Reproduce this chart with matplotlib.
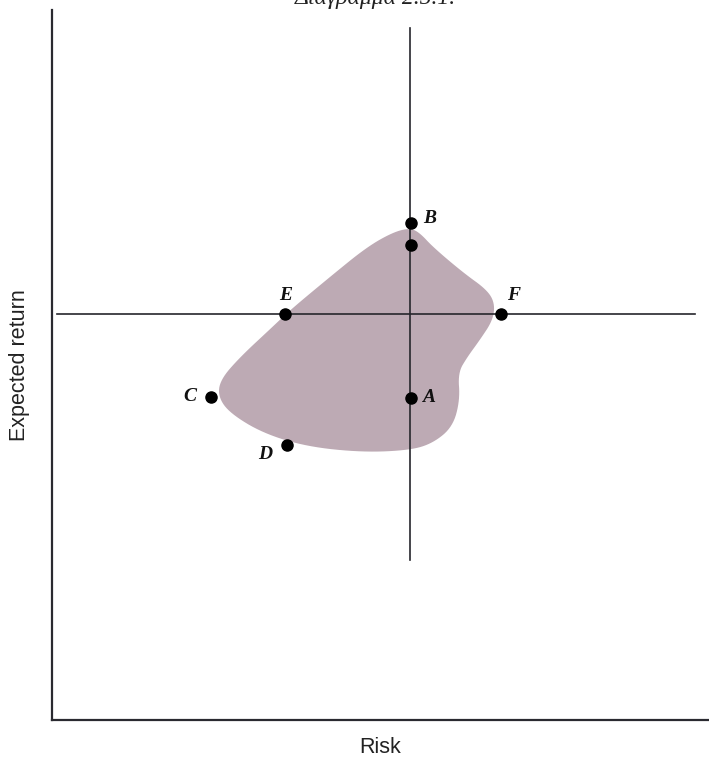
import numpy as np
import matplotlib.pyplot as plt
from matplotlib.patches import Polygon

# Portfolio-Menge im Risiko/Rendite-Raum (Einheiten 0..100 auf beiden Achsen)
point_names = ['B', '', 'E', 'F', 'A', 'C', 'D']
point_x = [54.6, 54.6, 35.5, 68.3, 54.6, 24.2, 35.8]
point_y = [70.0, 66.9, 57.2, 57.2, 45.4, 45.5, 38.7]

# Umriss der zulässigen Menge
region_x = [54.5, 56.0, 58.0, 62.6, 66.2, 67.4, 67.1, 65.1, 63.2, 61.8, 62.1, 61.0, 58.0,
            54.5, 47.3, 38.8, 32.1, 27.1, 25.3, 25.6, 28.6, 33.6, 36.2, 42.3, 47.9, 51.9]
region_y = [69.3, 68.6, 66.6, 63.0, 60.6, 58.7, 56.3, 53.5, 51.1, 48.9, 45.1, 41.3, 39.0,
            38.0, 37.7, 38.5, 40.4, 43.2, 45.5, 47.9, 51.1, 55.4, 57.7, 62.4, 66.6, 68.7]

# Fadenkreuz durch den Bezugspunkt
cross_x, cross_y = 54.5, 57.2
vline_span = (22.5, 97.5)
hline_span = (0.8, 97.9)

# Beschriftungspositionen der Punkte (Text-Offsets in Punkten)
label_offsets = {'B': (14, 3), 'E': (0, 13), 'F': (9, 13), 'A': (13, 0), 'C': (-15, 0), 'D': (-16, -7)}


def chaikin(pts, n=3):
    # Ecken des geschlossenen Umrisses abrunden
    for _ in range(n):
        nxt = np.roll(pts, -1, axis=0)
        q = 0.75 * pts + 0.25 * nxt
        r = 0.25 * pts + 0.75 * nxt
        pts = np.empty((2 * len(pts), 2))
        pts[0::2], pts[1::2] = q, r
    return pts


fig = plt.figure(figsize=(7.09, 7.58), dpi=100)
ax = fig.add_axes([0.0733, 0.0501, 0.9267, 0.9367])
ax.set_xlim(0, 100)
ax.set_ylim(0, 100)

outline = chaikin(np.column_stack([region_x, region_y]))
ax.add_patch(Polygon(outline, closed=True, facecolor='#bdaab4', edgecolor='none'))

ax.plot([cross_x, cross_x], vline_span, color='#26262c', linewidth=1.2)
ax.plot(hline_span, [cross_y, cross_y], color='#26262c', linewidth=1.2)

ax.plot(point_x, point_y, 'o', color='black', markersize=8, zorder=5)

for name, x, y in zip(point_names, point_x, point_y):
    if not name:
        continue
    dx, dy = label_offsets[name]
    ax.annotate(name, (x, y), xytext=(dx, dy), textcoords='offset points',
                ha='center', va='center', fontsize=14, fontstyle='italic', fontweight='bold',
                family='Liberation Serif', color='#111111')

for side in ['top', 'right']:
    ax.spines[side].set_visible(False)
for side in ['left', 'bottom']:
    ax.spines[side].set_linewidth(1.6)
    ax.spines[side].set_color('#2a2a30')
ax.set_xticks([])
ax.set_yticks([])

ax.set_xlabel('Risk', fontsize=15.5, family='Liberation Sans', color='#222222', labelpad=12)
ax.set_ylabel('Expected return', fontsize=15.5, family='Liberation Sans', color='#222222', labelpad=16)

# Überschrift sitzt zur Hälfte oberhalb des Bildrands
fig.text(0.53, 1.002, 'Διάγραμμα 2.5.1.', ha='center', va='center', fontsize=17,
         fontstyle='italic', family='Liberation Serif', color='#222222')

fig.savefig('out.png', dpi=100)
